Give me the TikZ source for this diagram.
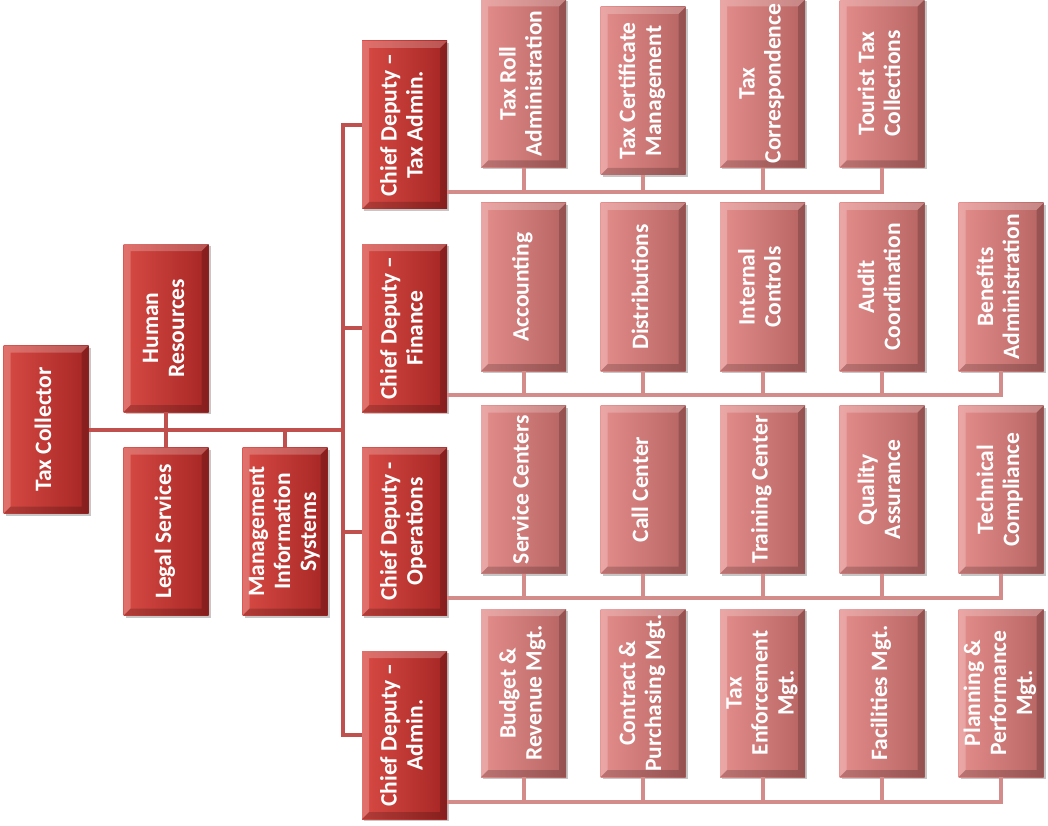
\documentclass[tikz,border=0pt]{standalone}
\usepackage{fontspec}
\setmainfont{Carlito}
\usetikzlibrary{shadows}

\definecolor{headleft}{RGB}{216,74,68}
\definecolor{headright}{RGB}{165,38,36}
\definecolor{unitleft}{RGB}{228,142,140}
\definecolor{unitright}{RGB}{182,100,98}
\definecolor{trunkline}{RGB}{192,80,77}
\definecolor{busline}{RGB}{212,140,138}

\newcommand{\vtext}[1]{\rotatebox{90}{\begin{tabular}{@{}c@{}}#1\end{tabular}}}

\begin{document}
\begin{tikzpicture}[x=1pt, y=-1pt,
    box/.style={rectangle, minimum width=85pt, minimum height=168pt, inner sep=0pt,
        text=white, font=\fontsize{23.5}{26}\selectfont\bfseries,
        drop shadow={shadow xshift=2pt, shadow yshift=-2pt, opacity=.45},
        path picture={
            \fill[white, opacity=.22] (path picture bounding box.south west) -- (path picture bounding box.north west)
                -- (path picture bounding box.north east) -- ([xshift=-7pt, yshift=-7pt]path picture bounding box.north east)
                -- ([xshift=7pt, yshift=-7pt]path picture bounding box.north west) -- ([xshift=7pt, yshift=7pt]path picture bounding box.south west) -- cycle;
            \fill[black, opacity=.18] (path picture bounding box.south west) -- (path picture bounding box.south east)
                -- (path picture bounding box.north east) -- ([xshift=-7pt, yshift=-7pt]path picture bounding box.north east)
                -- ([xshift=-7pt, yshift=7pt]path picture bounding box.south east) -- ([xshift=7pt, yshift=7pt]path picture bounding box.south west) -- cycle;
        }},
    head/.style={box, left color=headleft, right color=headright},
    unit/.style={box, left color=unitleft, right color=unitright},
    trunk/.style={draw=trunkline, line width=4pt},
    bus/.style={draw=busline, line width=4pt}]
    \useasboundingbox (0,0) rectangle (1048,826);

    \node[head] (taxc) at (46,429.5) {\vtext{Tax Collector}};
    \node[head] (hr) at (166,328) {\vtext{Human\\Resources}};
    \node[head] (legal) at (166,531.5) {\vtext{Legal Services}};
    \node[head] (mis) at (285,531.5) {\vtext{Management\\Information\\Systems}};

    \node[head] (tadm) at (404.5,125) {\vtext{Chief Deputy –\\Tax Admin.}};
    \node[head] (fin) at (404.5,328) {\vtext{Chief Deputy –\\Finance}};
    \node[head] (ops) at (404.5,531.5) {\vtext{Chief Deputy -\\Operations}};
    \node[head] (adm) at (404.5,735) {\vtext{Chief Deputy –\\Admin.}};

    \node[unit] (t1) at (523.5,83.5) {\vtext{Tax Roll\\Administration}};
    \node[unit] (t2) at (643,91) {\vtext{Tax Certificate\\Management}};
    \node[unit] (t3) at (762.5,83.5) {\vtext{Tax\\Correspondence}};
    \node[unit] (t4) at (882,83.5) {\vtext{Tourist Tax\\Collections}};

    \node[unit] (f1) at (523.5,287) {\vtext{Accounting}};
    \node[unit] (f2) at (643,287) {\vtext{Distributions}};
    \node[unit] (f3) at (762.5,287) {\vtext{Internal\\Controls}};
    \node[unit] (f4) at (882,287) {\vtext{Audit\\Coordination}};
    \node[unit] (f5) at (1001,287) {\vtext{Benefits\\Administration}};

    \node[unit] (o1) at (523.5,489.5) {\vtext{Service Centers}};
    \node[unit] (o2) at (643,489.5) {\vtext{Call Center}};
    \node[unit] (o3) at (762.5,489.5) {\vtext{Training Center}};
    \node[unit] (o4) at (882,489.5) {\vtext{Quality\\Assurance}};
    \node[unit] (o5) at (1001,489.5) {\vtext{Technical\\Compliance}};

    \node[unit] (a1) at (523.5,693) {\vtext{Budget \&\\Revenue Mgt.}};
    \node[unit] (a2) at (643,693) {\vtext{Contract \&\\Purchasing Mgt.}};
    \node[unit] (a3) at (762.5,693) {\vtext{Tax\\Enforcement\\Mgt.}};
    \node[unit] (a4) at (882,693) {\vtext{Facilities Mgt.}};
    \node[unit] (a5) at (1001,693) {\vtext{Planning \&\\Performance\\Mgt.}};

    \coordinate (hub) at (343,430);
    \draw[trunk] (taxc.east) -- (taxc.east -| hub);
    \draw[trunk] (hr.south) -- (legal.north);
    \draw[trunk] (mis.north) -- (mis.north |- hub);
    \draw[trunk] (tadm.west) -| (hub) |- (adm.west);
    \draw[trunk] (fin.west) -- (fin.west -| hub);
    \draw[trunk] (ops.west) -- (ops.west -| hub);

    \coordinate (bus1) at (447,192);
    \coordinate (bus2) at (447,395);
    \coordinate (bus3) at (447,598);
    \coordinate (bus4) at (447,802);
    \draw[bus] (bus1) -| (t4.south);
    \draw[bus] (bus2) -| (f5.south);
    \draw[bus] (bus3) -| (o5.south);
    \draw[bus] (bus4) -| (a5.south);
    \foreach \u in {t1,t2,t3} \draw[bus] (\u.south) -- (\u.south |- bus1);
    \foreach \u in {f1,f2,f3,f4} \draw[bus] (\u.south) -- (\u.south |- bus2);
    \foreach \u in {o1,o2,o3,o4} \draw[bus] (\u.south) -- (\u.south |- bus3);
    \foreach \u in {a1,a2,a3,a4} \draw[bus] (\u.south) -- (\u.south |- bus4);
\end{tikzpicture}
\end{document}
